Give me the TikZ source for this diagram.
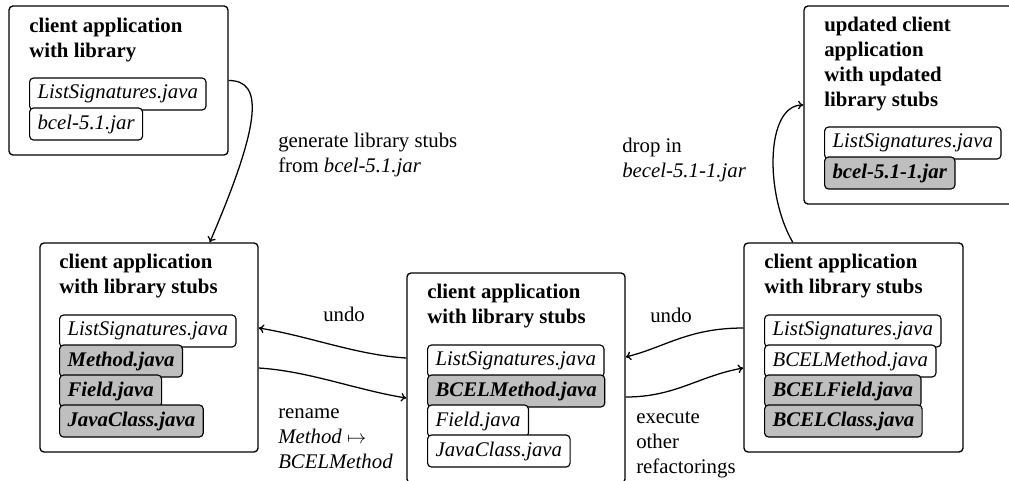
\documentclass[tikz,border=0pt]{standalone}
\usepackage{fontspec}
\setmainfont{Liberation Serif}
\usetikzlibrary{arrows.meta,calc}
\newcommand\mylines[1]{\begin{tabular}[t]{@{}l@{}}#1\end{tabular}}
\tikzset{
  outerbox/.style={draw, line width=1pt, rounded corners=3pt, inner sep=0pt},
  titletext/.style={anchor=base west, inner sep=0pt, font=\fontsize{15.6}{18.75}\selectfont\bfseries},
  labeltext/.style={anchor=base west, inner sep=0pt, font=\fontsize{15.6}{18.75}\selectfont},
  filebox/.style={draw, line width=0.85pt, rounded corners=3pt, fill=white, anchor=west,
    minimum height=24pt, inner xsep=6pt, inner ysep=0pt, font=\fontsize{15.6}{18.75}\selectfont\itshape},
  changedbox/.style={filebox, fill=black!25, font=\fontsize{15.6}{18.75}\selectfont\bfseries\itshape},
  conn/.style={line width=0.95pt, -{To[length=4pt,width=6.5pt]}}
}
\begin{document}
\begin{tikzpicture}[x=0.75pt,y=-0.75pt]
\useasboundingbox (0,0) rectangle (1009,480);
\clip (0,0) rectangle (1009,480);

% outer boxes
\node[outerbox, minimum width=164.25pt, minimum height=111.75pt] (B1) at (118.5,80.5) {};
\node[outerbox, minimum width=158.25pt, minimum height=148.5pt] (B6) at (909.5,105) {};
\node[outerbox, minimum width=163.5pt, minimum height=156.75pt] (B2) at (149,347.5) {};
\node[outerbox, minimum width=163.5pt, minimum height=157.5pt] (B3) at (516,378) {};
\node[outerbox, minimum width=164.25pt, minimum height=156.75pt] (B5) at (853.5,347.5) {};

% titles
\node[titletext] (T1) at (29,32) {\mylines{client application\\with library}};
\node[titletext] (T6) at (824,31) {\mylines{updated client\\application\\with updated\\library stubs}};
\node[titletext] (T2) at (59,268) {\mylines{client application\\with library stubs}};
\node[titletext] (T3) at (427,298) {\mylines{client application\\with library stubs}};
\node[titletext] (T5) at (764,268) {\mylines{client application\\with library stubs}};

% files: top left
\node[filebox] (f1a) at (29,94) {ListSignatures.java};
\node[filebox] (f1b) at (29,124) {bcel-5.1.jar};
% files: top right
\node[filebox] (f6a) at (824,143) {ListSignatures.java};
\node[changedbox] (f6b) at (824,173) {bcel-5.1-1.jar};
% files: left
\node[filebox] (f2a) at (59,331) {ListSignatures.java};
\node[changedbox] (f2b) at (59,361) {Method.java};
\node[changedbox] (f2c) at (59,391) {Field.java};
\node[changedbox] (f2d) at (59,421) {JavaClass.java};
% files: middle
\node[filebox] (f3a) at (427,361) {ListSignatures.java};
\node[changedbox] (f3b) at (427,391) {BCELMethod.java};
\node[filebox] (f3c) at (427,421) {Field.java};
\node[filebox] (f3d) at (427,451) {JavaClass.java};
% files: right
\node[filebox] (f5a) at (764,331) {ListSignatures.java};
\node[filebox] (f5b) at (764,361) {BCELMethod.java};
\node[changedbox] (f5c) at (764,391) {BCELField.java};
\node[changedbox] (f5d) at (764,421) {BCELClass.java};

% connectors
\draw[conn] (B1.east) .. controls +(34,0) and +(53,-123) .. (B2.60);
\draw[conn] (B5.120) .. controls +(-28,-48) and +(-38,0) .. (B6.west);
\draw[conn] ($(B3.west)+(0,-20)$) .. controls +(-50,-3) and +(50,8) .. ($(B2.east)+(0,-19.5)$);
\draw[conn] ($(B2.east)+(0,20.5)$) .. controls +(50,3) and +(-50,-8) .. ($(B3.west)+(0,20)$);
\draw[conn] ($(B5.west)+(0,-19.5)$) .. controls +(-55,0) and +(40,-10) .. ($(B3.east)+(0,-21)$);
\draw[conn] ($(B3.east)+(0,19)$) .. controls +(50,0) and +(-45,8) .. ($(B5.west)+(0,20.5)$);

% labels
\node[labeltext] (L1) at (278,147) {\mylines{generate library stubs\\from \textit{bcel-5.1.jar}}};
\node[labeltext] (L2) at (622,152) {\mylines{drop in\\\textit{becel-5.1-1.jar}}};
\node[labeltext] (L3) at (323,321) {undo};
\node[labeltext] (L4) at (278,418) {\mylines{rename\\\textit{Method} $\mapsto$\\\textit{BCELMethod}}};
\node[labeltext] (L5) at (650,322) {undo};
\node[labeltext] (L6) at (636,423) {\mylines{execute\\other\\refactorings}};
\end{tikzpicture}
\end{document}
